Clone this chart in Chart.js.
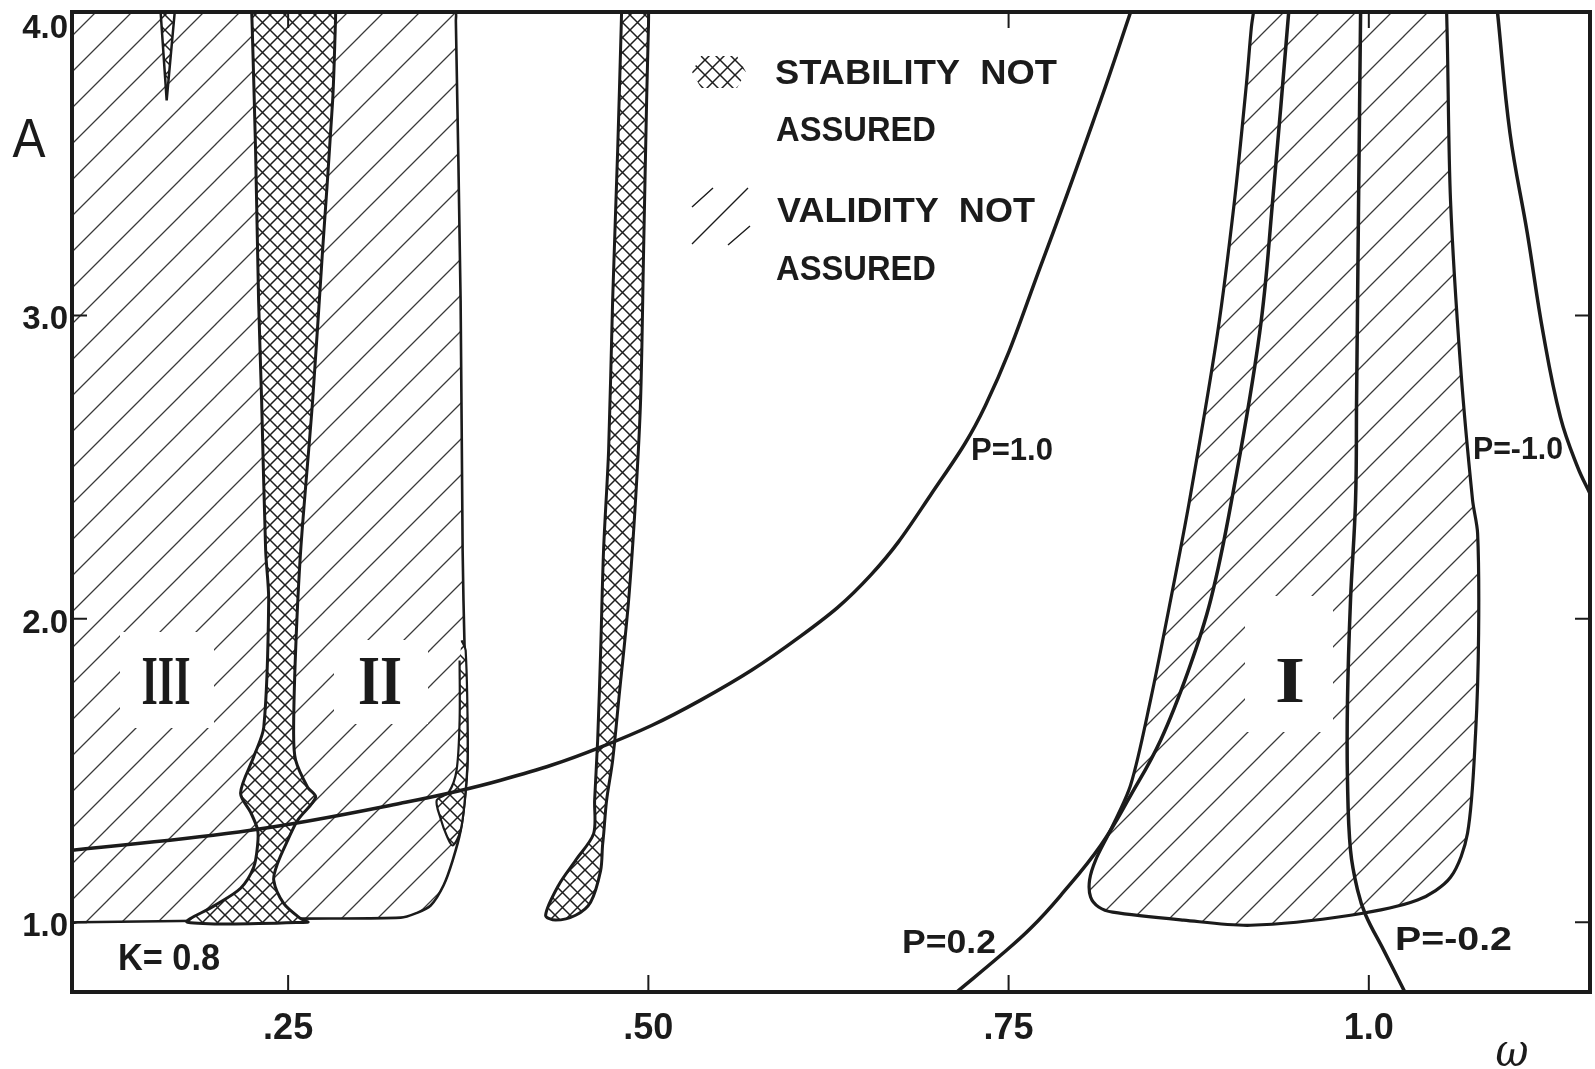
<!DOCTYPE html>
<html>
<head>
<meta charset="utf-8">
<title>Stability and validity regions, K = 0.8</title>
<script src="https://cdn.jsdelivr.net/npm/chart.js@4/dist/chart.umd.min.js"></script>
<style>
  html, body { margin: 0; padding: 0; background: #fff; }
  canvas { display: block; }
</style>
</head>
<body>
<canvas id="chart" width="1595" height="1069"></canvas>
<script>
// axes
const X_MIN = 0.1, X_MAX = 1.1535;
const Y_MIN = 0.77, Y_MAX = 4.0;
const xTickValues = [0.25, 0.5, 0.75, 1.0];
const xTickLabels = ['.25', '.50', '.75', '1.0'];
const yTickValues = [1, 2, 3, 4];
const yTickLabels = ['1.0', '2.0', '3.0', '4.0'];

// validity not assured, regions III and II (left block)
const validityLowOmega = [0.1, 0.362, 0.3662, 0.3664, 0.3697, 0.3711, 0.3725, 0.3746, 0.3732, 0.3697, 0.3642, 0.3579, 0.3489, 0.3385, 0.3281, 0.2587, 0.1893, 0.104, 0.1, 0.1];
const validityLowA     = [4.0, 4.0, 4.0, 3.97, 3.049, 2.225, 1.895, 1.566, 1.434, 1.302, 1.204, 1.122, 1.055, 1.029, 1.015, 1.012, 1.005, 1.0, 1.0, 1.03];

// validity not assured, region I
const validityHighOmega = [0.9200, 0.9185, 0.9151, 0.9068, 0.8950, 0.8756, 0.8624, 0.8485, 0.8347, 0.8208, 0.8104, 0.8062, 0.8069, 0.8125, 0.8222, 0.8714, 0.9179, 0.9873, 1.0338, 1.0567, 1.0685, 1.0741, 1.0762, 1.0755, 1.0720, 1.0637, 1.0567, 1.0545, 1.0540];
const validityHighA     = [4.0, 3.95, 3.765, 3.379, 2.941, 2.391, 2.061, 1.732, 1.452, 1.304, 1.205, 1.139, 1.083, 1.050, 1.033, 1.007, 0.990, 1.023, 1.073, 1.148, 1.293, 1.623, 1.953, 2.282, 2.391, 2.830, 3.379, 3.9, 4.0];

// stability not assured, band between III and II
const stabilityMainOmega = [0.2247, 0.2250, 0.2274, 0.2295, 0.2316, 0.2344, 0.2365, 0.2331, 0.2261, 0.2170, 0.2240, 0.2288, 0.2288, 0.2261, 0.2170, 0.1983, 0.1802, 0.2636, 0.2587, 0.2469, 0.2400, 0.2427, 0.2497, 0.2566, 0.2691, 0.2635, 0.2552, 0.2538, 0.2552, 0.2587, 0.2670, 0.2739, 0.2809, 0.2828, 0.2830];
const stabilityMainA     = [4.0, 3.96, 3.545, 3.049, 2.720, 2.225, 2.061, 1.643, 1.545, 1.426, 1.362, 1.305, 1.254, 1.181, 1.112, 1.053, 1.0, 1.0, 1.012, 1.062, 1.138, 1.194, 1.270, 1.336, 1.412, 1.445, 1.534, 1.623, 1.896, 2.225, 2.720, 3.214, 3.709, 3.96, 4.0];

// small spike at the top of region III
const stabilitySpikeOmega = [0.1615, 0.1657, 0.1713];
const stabilitySpikeA     = [4.0, 3.709, 4.0];

// sliver on the right edge of region II
const stabilitySliverOmega = [0.3704, 0.3732, 0.3746, 0.3732, 0.3697, 0.3642, 0.3600, 0.3558, 0.3531, 0.3614, 0.3669, 0.3690, 0.3690];
const stabilitySliverA     = [1.929, 1.896, 1.566, 1.434, 1.302, 1.253, 1.286, 1.342, 1.402, 1.428, 1.501, 1.665, 1.863];

// strip near omega = .48
const stabilityStripOmega = [0.4814, 0.4812, 0.4787, 0.4752, 0.4724, 0.4689, 0.4669, 0.4648, 0.4627, 0.4620, 0.4495, 0.4377, 0.4287, 0.4356, 0.4495, 0.4599, 0.4669, 0.4682, 0.4689, 0.4710, 0.4752, 0.4794, 0.4863, 0.4911, 0.4946, 0.4967, 0.4988, 0.5001, 0.5002];
const stabilityStripA     = [4.0, 3.96, 3.545, 3.049, 2.555, 2.225, 1.896, 1.599, 1.401, 1.292, 1.204, 1.122, 1.023, 1.007, 1.023, 1.066, 1.171, 1.253, 1.286, 1.401, 1.533, 1.731, 2.061, 2.391, 2.720, 3.214, 3.709, 3.96, 4.0];

// P curves
const p10Omega = [0.1, 0.224, 0.3281, 0.3975, 0.4669, 0.5363, 0.6057, 0.6543, 0.6959, 0.7340, 0.7743, 0.8139, 0.8347];
const p10A     = [1.237, 1.303, 1.392, 1.468, 1.577, 1.732, 1.943, 2.144, 2.408, 2.704, 3.189, 3.709, 4.0];
const p02Omega = [0.714, 0.7445, 0.7653, 0.7861, 0.8139, 0.8347, 0.8555, 0.8749, 0.8902, 0.9048, 0.9242, 0.9333, 0.9444];
const p02A     = [0.77, 0.891, 0.980, 1.088, 1.253, 1.418, 1.600, 1.831, 2.061, 2.391, 2.941, 3.380, 4.0];
const pm02Omega = [0.9943, 0.9929, 0.9915, 0.9908, 0.9873, 0.9852, 0.9852, 0.9873, 0.9922, 0.9978, 1.0103, 1.025];
const pm02A     = [4.0, 3.379, 2.720, 2.391, 2.062, 1.732, 1.468, 1.237, 1.106, 1.024, 0.908, 0.77];
const pm10Omega = [1.0893, 1.098, 1.110, 1.121, 1.133, 1.145, 1.1535];
const pm10A     = [4.0, 3.600, 3.271, 2.941, 2.664, 2.499, 2.413];

const INK = '#1b1b1b';

function zip(ws, as) {
  return ws.map((w, i) => ({ x: w, y: as[i] }));
}

function hatchPattern() {
  const s = 36;
  const c = document.createElement('canvas');
  c.width = s; c.height = s;
  const g = c.getContext('2d');
  g.strokeStyle = '#3a3a3a';
  g.lineWidth = 1.3;
  g.beginPath();
  g.moveTo(-4, s + 4); g.lineTo(s + 4, -4);
  g.moveTo(-4, 4); g.lineTo(4, -4);
  g.moveTo(s - 4, s + 4); g.lineTo(s + 4, s - 4);
  g.stroke();
  return g.createPattern(c, 'repeat');
}

function crossPattern() {
  const s = 15;
  const c = document.createElement('canvas');
  c.width = s; c.height = s;
  const g = c.getContext('2d');
  g.fillStyle = '#fff';
  g.fillRect(0, 0, s, s);
  g.strokeStyle = '#1e1e1e';
  g.lineWidth = 1.5;
  g.beginPath();
  g.moveTo(-2, s + 2); g.lineTo(s + 2, -2);
  g.moveTo(-2, -2); g.lineTo(s + 2, s + 2);
  g.stroke();
  return g.createPattern(c, 'repeat');
}

const hatch = hatchPattern();
const cross = crossPattern();

function region(ws, as, fillStyle, width, order, tension) {
  return {
    data: zip(ws, as),
    showLine: true,
    fill: 'shape',
    backgroundColor: fillStyle,
    borderColor: INK,
    borderWidth: width,
    pointRadius: 0,
    tension: tension === undefined ? 0.3 : tension,
    order: order
  };
}

function curve(ws, as) {
  return {
    data: zip(ws, as),
    showLine: true,
    fill: false,
    borderColor: INK,
    borderWidth: 3.5,
    pointRadius: 0,
    tension: 0.4,
    order: 1
  };
}

function putText(ctx, text, x, y, size, opts) {
  const o = Object.assign({ weight: 'bold', style: '', family: "'Liberation Sans', Arial, sans-serif", align: 'center', width: null, mid: 0.358 }, opts || {});
  ctx.save();
  ctx.font = `${o.style} ${o.weight} ${size}px ${o.family}`;
  ctx.fillStyle = INK;
  ctx.textBaseline = 'alphabetic';
  ctx.textAlign = 'left';
  const w = ctx.measureText(text).width;
  const sx = o.width ? o.width / w : 1;
  const dw = w * sx;
  const left = o.align === 'left' ? x : o.align === 'right' ? x - dw : x - dw / 2;
  ctx.translate(left, y + size * o.mid);
  ctx.scale(sx, 1);
  ctx.fillText(text, 0, 0);
  ctx.restore();
}

const decorations = {
  id: 'decorations',
  afterDatasetsDraw(chart) {
    const ctx = chart.ctx;
    const area = chart.chartArea;
    const xs = chart.scales.x, ys = chart.scales.y;

    // roman numerals with a clear patch in the hatching
    ctx.save();
    ctx.fillStyle = '#fff';
    ctx.fillRect(120, 632, 94, 96);
    ctx.fillRect(334, 640, 94, 84);
    ctx.fillRect(1245, 596, 88, 136);
    ctx.restore();
    const roman = "'Liberation Serif', 'DejaVu Serif', serif";
    putText(ctx, 'III', 166, 679, 70, { family: roman, width: 49 });
    putText(ctx, 'II', 380, 679, 70, { family: roman, width: 44 });
    putText(ctx, 'I', 1290, 679, 65, { family: roman, width: 30 });

    // legend
    ctx.save();
    ctx.beginPath();
    ctx.moveTo(692, 72); ctx.lineTo(701, 56); ctx.lineTo(737, 56);
    ctx.lineTo(746, 72); ctx.lineTo(737, 88); ctx.lineTo(701, 88);
    ctx.closePath();
    ctx.fillStyle = cross;
    ctx.fill();
    ctx.strokeStyle = INK;
    ctx.lineWidth = 1.4;
    ctx.beginPath();
    ctx.moveTo(692, 207); ctx.lineTo(713, 188);
    ctx.moveTo(692, 244); ctx.lineTo(748, 188);
    ctx.moveTo(728, 245); ctx.lineTo(750, 226);
    ctx.stroke();
    ctx.restore();
    putText(ctx, 'STABILITY  NOT', 775, 71, 35, { align: 'left', width: 282 });
    putText(ctx, 'ASSURED', 776, 128, 35, { align: 'left', width: 160 });
    putText(ctx, 'VALIDITY  NOT', 777, 209, 35, { align: 'left', width: 258 });
    putText(ctx, 'ASSURED', 776, 267, 35, { align: 'left', width: 160 });

    // curve and parameter labels
    putText(ctx, 'P=1.0', 971, 449, 31, { align: 'left', width: 82 });
    putText(ctx, 'P=-1.0', 1473, 448, 31, { align: 'left', width: 90 });
    putText(ctx, 'P=0.2', 902, 941, 33, { align: 'left', width: 94 });
    putText(ctx, 'P=-0.2', 1395, 938, 33, { align: 'left', width: 117 });
    putText(ctx, 'K= 0.8', 118, 957, 36, { align: 'left', width: 102 });

    // frame and inward tick marks
    ctx.save();
    ctx.strokeStyle = INK;
    ctx.lineWidth = 4;
    ctx.strokeRect(area.left, area.top, area.right - area.left, area.bottom - area.top);
    ctx.lineWidth = 2;
    ctx.beginPath();
    xTickValues.forEach(v => {
      const px = xs.getPixelForValue(v);
      ctx.moveTo(px, area.bottom); ctx.lineTo(px, area.bottom - 17);
      ctx.moveTo(px, area.top); ctx.lineTo(px, area.top + 16);
    });
    yTickValues.forEach(v => {
      const py = ys.getPixelForValue(v);
      ctx.moveTo(area.left, py); ctx.lineTo(area.left + 15, py);
      ctx.moveTo(area.right, py); ctx.lineTo(area.right - 15, py);
    });
    ctx.stroke();
    ctx.restore();

    // tick labels
    xTickValues.forEach((v, i) => {
      putText(ctx, xTickLabels[i], xs.getPixelForValue(v), 1026, 36);
    });
    yTickValues.forEach((v, i) => {
      const py = Math.max(ys.getPixelForValue(v) + 2, 26);
      putText(ctx, yTickLabels[i], 68, py, 33, { align: 'right' });
    });

    // axis titles
    putText(ctx, 'A', 29, 137, 56, { weight: 'normal', width: 33 });
    putText(ctx, 'ω', 1512, 1054, 46, { weight: 'normal', style: 'italic', family: "'DejaVu Serif', serif", width: 33, mid: 0.27 });
  }
};

const datasets = [
  region(validityLowOmega, validityLowA, hatch, 2.6, 10),
  region(validityHighOmega, validityHighA, hatch, 3.2, 10),
  region(stabilityMainOmega, stabilityMainA, cross, 3, 5),
  region(stabilitySliverOmega, stabilitySliverA, cross, 2.2, 5),
  region(stabilitySpikeOmega, stabilitySpikeA, cross, 2.5, 5, 0),
  region(stabilityStripOmega, stabilityStripA, cross, 3, 5),
  curve(p10Omega, p10A),
  curve(p02Omega, p02A),
  curve(pm02Omega, pm02A),
  curve(pm10Omega, pm10A)
];

new Chart(document.getElementById('chart'), {
  type: 'scatter',
  data: { datasets },
  options: {
    responsive: false,
    animation: false,
    devicePixelRatio: 1,
    layout: { padding: { left: 72, top: 12, right: 5, bottom: 77 } },
    scales: {
      x: { type: 'linear', min: X_MIN, max: X_MAX, display: false },
      y: { type: 'linear', min: Y_MIN, max: Y_MAX, display: false }
    },
    plugins: {
      legend: { display: false },
      tooltip: { enabled: false }
    }
  },
  plugins: [decorations]
});
</script>
</body>
</html>
